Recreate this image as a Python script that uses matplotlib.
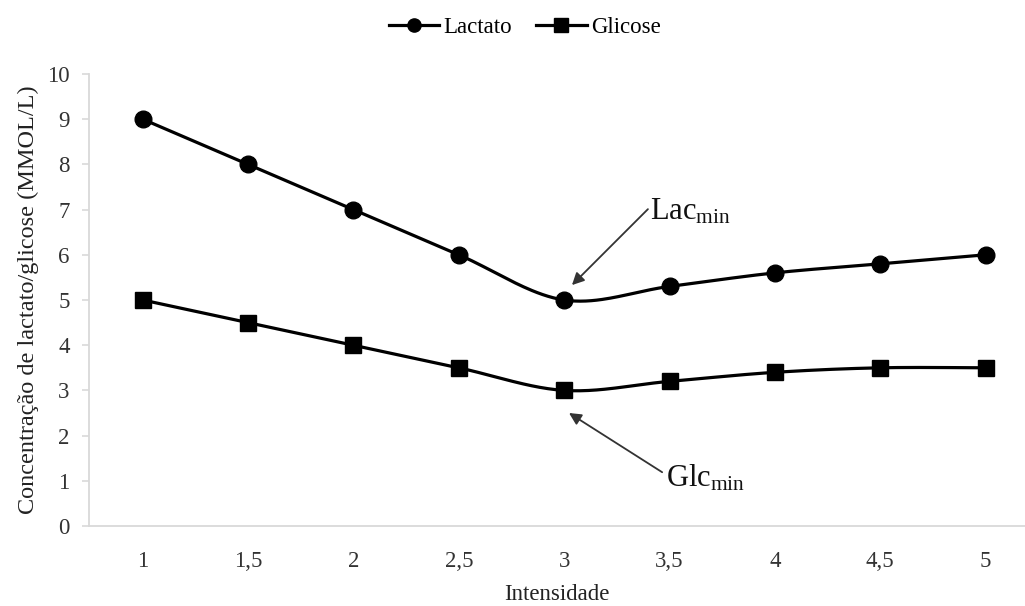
import numpy as np
import matplotlib
matplotlib.use("Agg")
import matplotlib.pyplot as plt

plt.rcParams['font.family'] = ['Liberation Serif', 'DejaVu Serif']
plt.rcParams['mathtext.fontset'] = 'custom'
plt.rcParams['mathtext.rm'] = 'Liberation Serif'
plt.rcParams['mathtext.it'] = 'Liberation Serif:italic'

categories = ["1", "1,5", "2", "2,5", "3", "3,5", "4", "4,5", "5"]
lactato = [9.0, 8.0, 7.0, 6.0, 5.0, 5.3, 5.6, 5.8, 6.0]
glicose = [5.0, 4.5, 4.0, 3.5, 3.0, 3.2, 3.4, 3.5, 3.5]
y_ticks = [0, 1, 2, 3, 4, 5, 6, 7, 8, 9, 10]


def smooth(xs, ys, n=40):
    """Excel-like smoothed line (Catmull-Rom Bezier)."""
    P = np.column_stack([xs, ys]).astype(float)
    out = [P[0]]
    m = len(P)
    t = np.linspace(0, 1, n)[1:]
    for i in range(m - 1):
        p0 = P[i - 1] if i > 0 else P[i]
        p1 = P[i]
        p2 = P[i + 1]
        p3 = P[i + 2] if i + 2 < m else P[i + 1]
        c1 = p1 + (p2 - p0) / 6.0
        c2 = p2 - (p3 - p1) / 6.0
        for tt in t:
            b = ((1 - tt) ** 3) * p1 + 3 * ((1 - tt) ** 2) * tt * c1 + 3 * (1 - tt) * tt ** 2 * c2 + tt ** 3 * p2
            out.append(b)
    out = np.array(out)
    return out[:, 0], out[:, 1]


fig = plt.figure(figsize=(10.25, 6.06), dpi=100)
ax = fig.add_axes([89 / 1025, 80 / 606, (1025 - 89) / 1025, 452 / 606])

x = np.arange(len(categories))
FS = 16.5

sx, sy = smooth(x, lactato)
ax.plot(sx, sy, color='black', lw=2.3, zorder=3)
ax.plot(x, lactato, 'o', color='black', ms=12, zorder=4)
sx, sy = smooth(x, glicose)
ax.plot(sx, sy, color='black', lw=2.3, zorder=3)
ax.plot(x, glicose, 's', color='black', ms=12, zorder=4)

# legend proxies
ax.plot([], [], color='black', lw=2.3, marker='o', ms=9.5, label='Lactato')
ax.plot([], [], color='black', lw=2.3, marker='s', ms=9.5, label='Glicose')

ax.set_xlim(-0.51, (1025 - 142.8) / 105.35)
ax.set_ylim(0, 10)
ax.set_xticks(x)
ax.set_xticklabels(categories)
ax.set_yticks(y_ticks)

for s in ['top', 'right']:
    ax.spines[s].set_visible(False)
for s in ['left', 'bottom']:
    ax.spines[s].set_color('#d9d9d9')
    ax.spines[s].set_linewidth(1.3)

ax.tick_params(axis='x', length=0, pad=18, labelsize=FS, colors='#333333')
ax.tick_params(axis='y', length=5, width=1.2, color='#d9d9d9', pad=9,
               labelsize=FS, labelcolor='#333333')

ax.set_xlabel('Intensidade', fontsize=FS, color='#222222', labelpad=9)
ax.set_ylabel('Concentração de lactato/glicose (MMOL/L)', fontsize=17.5,
              color='#222222', labelpad=6)

arrow_kw = dict(arrowstyle='-|>', color='#333333', lw=1.3, mutation_scale=18,
                shrinkA=0, shrinkB=0)
ax.annotate('', xy=(4.074, 5.33), xytext=(4.795, 7.01), arrowprops=arrow_kw)
ax.text(4.81, 6.95, r'$\mathrm{Lac_{min}}$', fontsize=22, va='center', ha='left',
        color='#111111')
ax.annotate('', xy=(4.046, 2.50), xytext=(4.93, 1.19), arrowprops=arrow_kw)
ax.text(4.97, 1.06, r'$\mathrm{Glc_{min}}$', fontsize=22, va='center', ha='left',
        color='#111111')

fig.legend(loc='center', bbox_to_anchor=(0.512, 0.955), ncol=2, frameon=False,
           fontsize=FS, handlelength=2.2, handletextpad=0.2, columnspacing=1.05)

fig.savefig('out.png', dpi=100, facecolor='white')
